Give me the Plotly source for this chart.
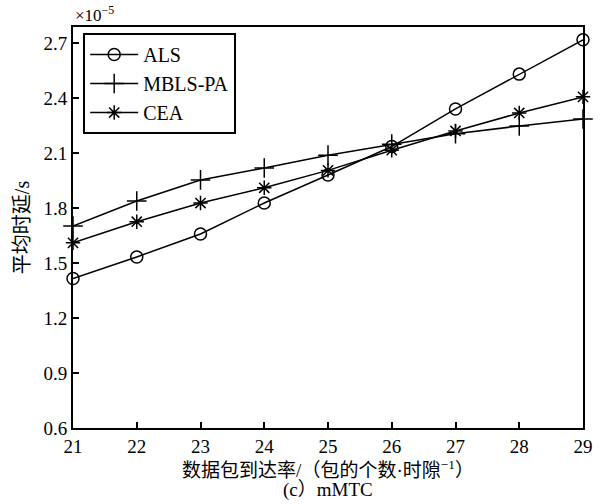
import plotly.graph_objects as go

x_vals = [21, 22, 23, 24, 25, 26, 27, 28, 29]
als = [1.415, 1.533, 1.658, 1.827, 1.98, 2.135, 2.34, 2.53, 2.717]
mbls = [1.702, 1.838, 1.953, 2.018, 2.088, 2.148, 2.205, 2.247, 2.285]
cea = [1.61, 1.725, 1.827, 1.91, 2.005, 2.115, 2.22, 2.318, 2.406]
y_ticks = [0.6, 0.9, 1.2, 1.5, 1.8, 2.1, 2.4, 2.7]

serif = "Liberation Serif, Times New Roman, serif"
cjk = "Liberation Serif, Noto Sans CJK SC, serif"

fig = go.Figure()
series = [
    ("ALS", als, "circle-open", 12),
    ("MBLS-PA", mbls, "cross-thin-open", 14),
    ("CEA", cea, "asterisk-open", 12),
]
for name, ys, sym, sz in series:
    fig.add_trace(go.Scatter(
        x=x_vals, y=ys, name=name, mode="lines+markers",
        line=dict(color="black", width=1.5),
        marker=dict(symbol=sym, size=sz, color="black",
                    line=dict(color="black", width=1.5)),
        cliponaxis=False,
    ))

fig.update_layout(
    width=605, height=504,
    margin=dict(l=73, r=16, t=27, b=76),
    paper_bgcolor="white", plot_bgcolor="white",
    font=dict(family=serif, color="black", size=18),
    showlegend=True,
    legend=dict(x=0.02, y=0.985, xanchor="left", yanchor="top",
                bgcolor="white", bordercolor="black", borderwidth=2,
                font=dict(family=serif, size=20, color="black"),
                tracegroupgap=0, itemwidth=48),
    xaxis=dict(range=[21, 29], tickvals=x_vals, ticks="inside", ticklen=6,
               tickwidth=1.5, tickcolor="black",
               showline=True, linecolor="black", linewidth=2, mirror=True,
               showgrid=False, zeroline=False,
               tickfont=dict(family=serif, size=19, color="black"),
               title=dict(text="数据包到达率/（包的个数·时隙<sup>−1</sup>）",
                          font=dict(family=cjk, size=19, color="black"),
                          standoff=4)),
    yaxis=dict(range=[0.6, 2.787], tickvals=y_ticks,
               ticktext=[f"{v:.1f}" for v in y_ticks],
               ticks="inside", ticklen=6, tickwidth=1.5, tickcolor="black",
               showline=True, linecolor="black", linewidth=2, mirror=True,
               showgrid=False, zeroline=False,
               tickfont=dict(family=serif, size=19, color="black"),
               title=dict(text="平均时延/s",
                          font=dict(family=cjk, size=20, color="black"),
                          standoff=8)),
    annotations=[
        dict(text="×10<sup>−5</sup>", xref="paper", yref="paper",
             x=0.0, y=1.0, xanchor="left", yanchor="bottom", showarrow=False,
             font=dict(family=serif, size=17, color="black"), yshift=0),
        dict(text="(c）mMTC", xref="paper", yref="paper", x=0.5, y=0,
             xanchor="center", yanchor="top", showarrow=False, yshift=-49,
             font=dict(family=cjk, size=19, color="black")),
    ],
)

fig.write_html("out.html")
